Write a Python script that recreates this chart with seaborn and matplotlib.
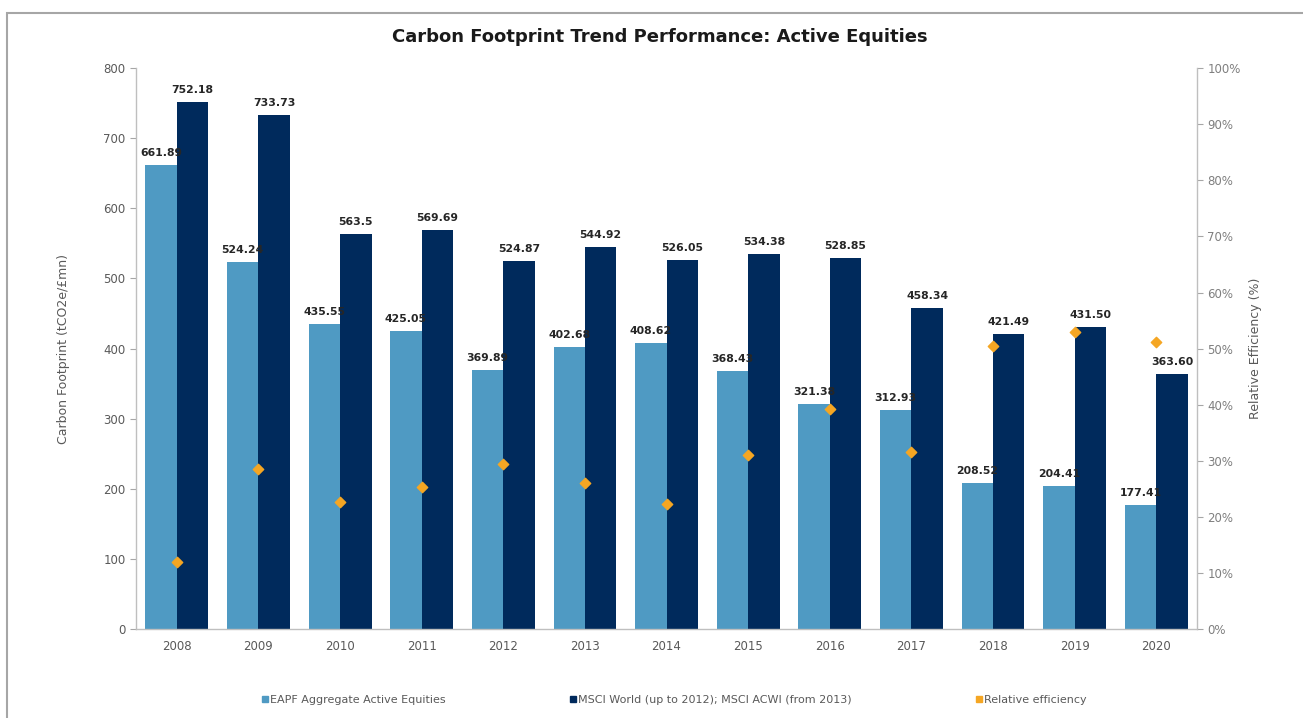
import matplotlib
matplotlib.use('Agg')
import matplotlib.pyplot as plt
import seaborn as sns
import pandas as pd
import numpy as np
from matplotlib.patches import Rectangle
from matplotlib.ticker import FuncFormatter, FixedLocator

years = ['2008', '2009', '2010', '2011', '2012', '2013', '2014',
         '2015', '2016', '2017', '2018', '2019', '2020']
eapf = [661.89, 524.24, 435.55, 425.05, 369.89, 402.68, 408.62,
        368.43, 321.38, 312.93, 208.52, 204.41, 177.41]
msci = [752.18, 733.73, 563.5, 569.69, 524.87, 544.92, 526.05,
        534.38, 528.85, 458.34, 421.49, 431.50, 363.60]
eapf_labels = ['661.89', '524.24', '435.55', '425.05', '369.89', '402.68', '408.62',
               '368.43', '321.38', '312.93', '208.52', '204.41', '177.41']
msci_labels = ['752.18', '733.73', '563.5', '569.69', '524.87', '544.92', '526.05',
               '534.38', '528.85', '458.34', '421.49', '431.50', '363.60']
# relative efficiency (%)
efficiency = [12.0, 28.6, 22.7, 25.4, 29.5, 26.1, 22.3,
              31.0, 39.3, 31.6, 50.5, 52.9, 51.2]

series_names = ['EAPF Aggregate Active Equities',
                'MSCI World (up to 2012); MSCI ACWI (from 2013)']

sns.set_style('white')
plt.rcParams['font.family'] = ['DejaVu Sans']

light = '#4F9AC3'
dark = '#002A5C'
orange = '#F5A623'
grey = '#595959'

df = pd.DataFrame({
    'year': years * 2,
    'value': eapf + msci,
    'series': [series_names[0]] * len(years) + [series_names[1]] * len(years),
})

fig = plt.figure(figsize=(13.03, 7.18), dpi=100)
ax = fig.add_axes([0.1044, 0.124, 0.8143, 0.781])

sns.barplot(data=df, x='year', y='value', hue='series', order=years,
            hue_order=series_names, palette=[light, dark], width=0.77,
            saturation=1, errorbar=None, ax=ax, legend=False, linewidth=0)

for cont, labs in zip(ax.containers, [eapf_labels, msci_labels]):
    ax.bar_label(cont, labels=labs, padding=5, fontsize=7.8, fontweight='bold',
                 color='#262626')

ax.set_ylim(0, 800)
ax.set_xlim(-0.5, len(years) - 0.5)
ax.set_yticks(range(0, 801, 100))
ax.set_xlabel('')
ax.set_ylabel('Carbon Footprint (tCO2e/£mn)', fontsize=9, color=grey, labelpad=24)
ax.tick_params(axis='y', labelsize=8.5, colors=grey, length=4, color='#A6A6A6')
ax.tick_params(axis='x', labelsize=8.5, colors=grey, length=0, pad=8)
ax.xaxis.set_minor_locator(FixedLocator(np.arange(-0.5, len(years), 1.0)))
ax.tick_params(axis='x', which='minor', length=4, color='#A6A6A6')

ax2 = ax.twinx()
ax2.scatter(np.arange(len(years)), efficiency, marker='D', s=28,
            color=orange, zorder=5)
ax2.set_ylim(0, 100)
ax2.set_yticks(range(0, 101, 10))
ax2.yaxis.set_major_formatter(FuncFormatter(lambda v, p: f'{int(v)}%'))
ax2.set_ylabel('Relative Efficiency (%)', fontsize=9, color=grey, labelpad=6)
ax2.tick_params(axis='y', labelsize=8.5, colors='#7F7F7F', length=4, color='#A6A6A6')

for a in (ax, ax2):
    for side in ('top', 'right', 'left', 'bottom'):
        a.spines[side].set_visible(False)
ax.spines['left'].set_visible(True)
ax.spines['bottom'].set_visible(True)
ax2.spines['right'].set_visible(True)
for sp in (ax.spines['left'], ax.spines['bottom'], ax2.spines['right']):
    sp.set_color('#BFBFBF')
    sp.set_linewidth(1.0)

fig.text(0.506, 0.948, 'Carbon Footprint Trend Performance: Active Equities',
         ha='center', va='center', fontsize=13, fontweight='bold', color='#1a1a1a')

# legend along the bottom
handles = [
    plt.Line2D([], [], marker='s', linestyle='none', color=light, markersize=5),
    plt.Line2D([], [], marker='s', linestyle='none', color=dark, markersize=5),
    plt.Line2D([], [], marker='s', linestyle='none', color=orange, markersize=4),
]
fig.legend(handles, series_names + ['Relative efficiency'], loc='center',
           bbox_to_anchor=(0.517, 0.025), ncol=3, frameon=False, fontsize=8,
           columnspacing=11, handletextpad=0.1, handlelength=0.8,
           labelcolor=grey)

# outer frame (left and top edges visible)
fig.patches.append(Rectangle((0.0055, -0.05), 1.1, 1.05 - 0.0181,
                             transform=fig.transFigure, fill=False,
                             edgecolor='#A6A6A6', linewidth=1.5))

fig.savefig('out.png', dpi=100)
